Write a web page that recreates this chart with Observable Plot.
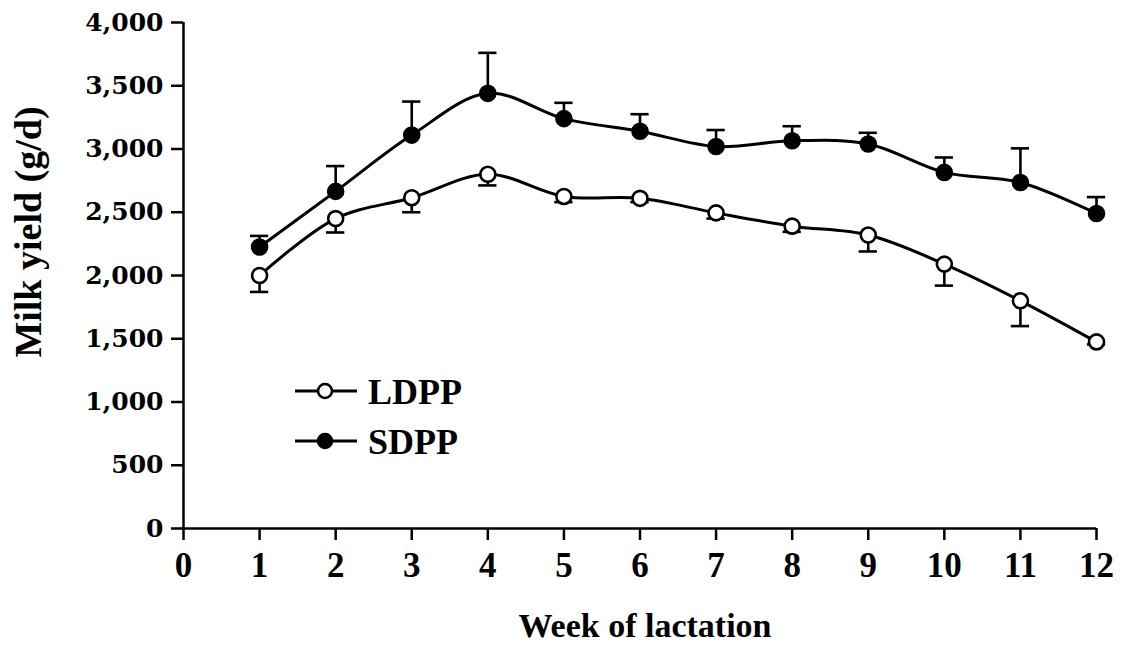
<!DOCTYPE html>
<html><head><meta charset="utf-8">
<script src="https://cdn.jsdelivr.net/npm/d3@7"></script>
<script src="https://cdn.jsdelivr.net/npm/@observablehq/plot@0.6"></script>
<style>
html,body{margin:0;padding:0;background:#fff;}
</style>
</head><body><div id="chart"></div>
<script>
const weeks = [1,2,3,4,5,6,7,8,9,10,11,12];
const ldppMean = [2000,2450,2615,2800,2625,2610,2495,2390,2320,2090,1800,1475];
const ldppSE   = [130,110,115,88,45,30,45,45,130,170,200,20];
const sdppMean = [2225,2665,3110,3440,3240,3140,3020,3065,3040,2815,2735,2490];
const sdppSE   = [88,200,265,320,125,135,130,115,88,118,270,130];
const xTicks = [0,1,2,3,4,5,6,7,8,9,10,11,12];
const yTicks = [0,500,1000,1500,2000,2500,3000,3500,4000];
const seriesNames = ["LDPP","SDPP"];
const xTitle = "Week of lactation";
const yTitle = "Milk yield (g/d)";

const rows = weeks.flatMap((w,i)=>[
  {week:w, group:seriesNames[0], mean:ldppMean[i], end:ldppMean[i]-ldppSE[i]},
  {week:w, group:seriesNames[1], mean:sdppMean[i], end:sdppMean[i]+sdppSE[i]}
]);
const capHalf = 0.12;
const SERIF = "'Liberation Serif','Times New Roman',serif";

const plot = Plot.plot({
  width:1125, height:646,
  marginLeft:183, marginRight:29, marginTop:22, marginBottom:118,
  style:{fontFamily:SERIF, fontWeight:"bold", background:"#fff", color:"#000", overflow:"visible"},
  x:{domain:[0,12]},
  y:{domain:[0,4000]},
  marks:[
    Plot.axisY(yTicks, {tickSize:12, tickPadding:8, tickFormat:d3.format(","), fontSize:25, fontFamily:"'DejaVu Serif',serif", fontWeight:"bold", strokeWidth:2.5, label:null}),
    Plot.axisX(xTicks, {tickSize:12, tickPadding:12, tickFormat:d=>String(d), fontSize:35, fontWeight:"bold", strokeWidth:2.5, label:null}),
    Plot.ruleX([0], {strokeWidth:2.5}),
    Plot.ruleY([0], {strokeWidth:2.5}),
    Plot.ruleX(rows, {x:"week", y1:"mean", y2:"end", strokeWidth:2.6}),
    Plot.ruleY(rows, {y:"end", x1:d=>d.week-capHalf, x2:d=>d.week+capHalf, strokeWidth:2.6}),
    Plot.line(rows, {x:"week", y:"mean", z:"group", curve:"catmull-rom", strokeWidth:3}),
    Plot.dot(rows.filter(d=>d.group===seriesNames[0]), {x:"week", y:"mean", r:7.5, fill:"white", stroke:"black", strokeWidth:2.6}),
    Plot.dot(rows.filter(d=>d.group===seriesNames[1]), {x:"week", y:"mean", r:7.5, fill:"black", stroke:"black", strokeWidth:2.6})
  ]
});

const svg = d3.select(plot);
// axis titles
svg.append("text")
  .attr("transform","translate(28,232) rotate(-90)")
  .attr("text-anchor","middle").attr("dy","0.35em")
  .attr("font-size",38).attr("font-weight","bold").attr("font-family",SERIF).attr("fill","black")
  .text(yTitle);
svg.append("text")
  .attr("x",645).attr("y",637)
  .attr("text-anchor","middle")
  .attr("font-size",34).attr("font-weight","bold").attr("font-family",SERIF).attr("fill","black")
  .text(xTitle);

// legend
const leg = svg.append("g");
seriesNames.forEach((name,i)=>{
  const y = 391 + i*50;
  const g = leg.append("g");
  g.append("line").attr("x1",295).attr("x2",357).attr("y1",y).attr("y2",y).attr("stroke","black").attr("stroke-width",3);
  g.append("circle").attr("cx",325).attr("cy",y).attr("r",7).attr("fill", i===0?"white":"black").attr("stroke","black").attr("stroke-width",2.6);
  g.append("text").attr("x",368).attr("y",y).attr("dy","0.35em").attr("text-anchor","start")
    .attr("font-size",36).attr("font-weight","bold").attr("font-family",SERIF).attr("fill","black").text(name);
});

document.getElementById("chart").appendChild(plot);
</script>
</body></html>
